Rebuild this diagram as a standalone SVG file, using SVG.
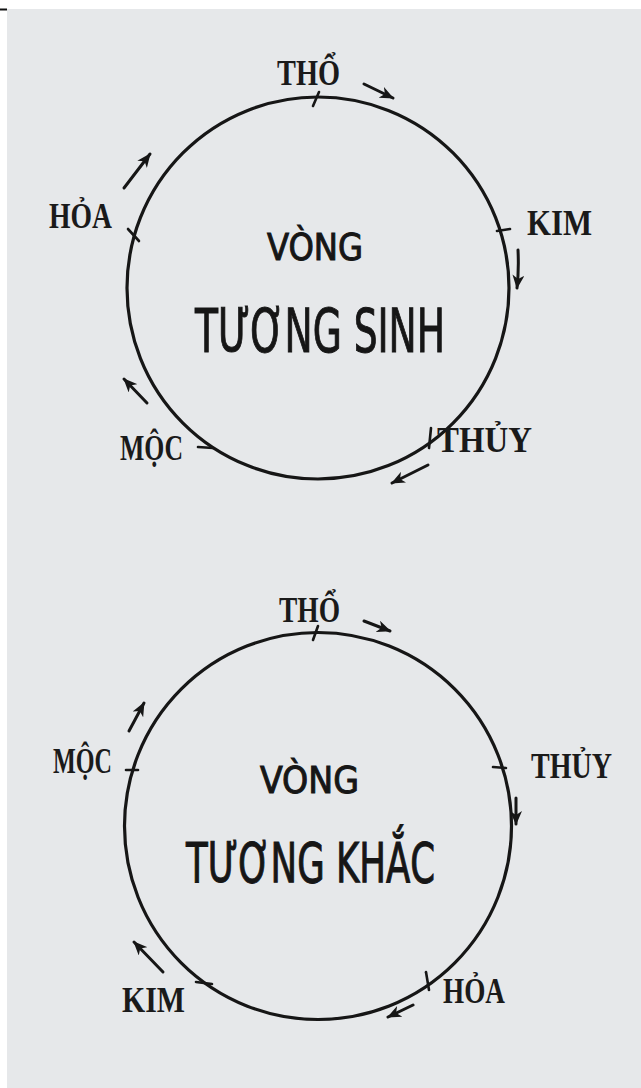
<svg xmlns="http://www.w3.org/2000/svg" width="641" height="1088" viewBox="0 0 641 1088">
  <defs>
    <style>
      .ring { fill: none; stroke: #161616; stroke-width: 3.2; }
      .tick { stroke: #161616; stroke-width: 2.6; stroke-linecap: round; }
      .arr { stroke: #161616; stroke-width: 3; fill: none; stroke-linecap: round; marker-end: url(#head); }
      .lbl { font-family: "Liberation Serif", "DejaVu Serif", serif; font-weight: bold; font-size: 35px; fill: #1a1a1a; }
      .title { font-family: "DejaVu Sans Condensed", "DejaVu Sans", sans-serif; fill: #161616; stroke: #161616; stroke-width: 1; }
    </style>
    <marker id="head" viewBox="0 0 14 12" refX="13" refY="6" markerWidth="14" markerHeight="12" markerUnits="userSpaceOnUse" orient="auto">
      <path d="M0,0 L14,6 L0,12 L4,6 z" fill="#161616"/>
    </marker>
  </defs>

  <rect x="0" y="0" width="641" height="1088" fill="#ffffff"/>
  <rect x="7" y="9" width="634" height="1079" fill="#e6e8ea"/>
  <line x1="0" y1="9.5" x2="7" y2="9.5" stroke="#111" stroke-width="2"/>

  <g id="rings">
    <circle class="ring" cx="318" cy="288" r="191"/>
    <circle class="ring" cx="318" cy="826" r="193.5"/>
  </g>

  <g id="titles">
    <g id="title-sinh">
      <text class="title" x="267" y="260" font-size="38" textLength="96" lengthAdjust="spacingAndGlyphs">VÒNG</text>
      <text class="title" x="195" y="352" font-size="60" textLength="250" lengthAdjust="spacingAndGlyphs">TƯƠNG SINH</text>
    </g>
    <g id="title-khac">
      <text class="title" x="260" y="793" font-size="38" textLength="99" lengthAdjust="spacingAndGlyphs">VÒNG</text>
      <text class="title" x="186" y="882" font-size="55" textLength="249" lengthAdjust="spacingAndGlyphs">TƯƠNG KHẮC</text>
    </g>
  </g>

  <!-- Vòng tương sinh nodes -->
  <g id="sinh-tho">
    <text class="lbl" x="277" y="85" textLength="63" lengthAdjust="spacingAndGlyphs">THỔ</text>
    <line class="tick" x1="313" y1="106" x2="319" y2="92"/>
  </g>
  <g id="sinh-kim">
    <text class="lbl" x="527" y="235" textLength="65" lengthAdjust="spacingAndGlyphs">KIM</text>
    <line class="tick" x1="497" y1="231" x2="510" y2="229"/>
  </g>
  <g id="sinh-thuy">
    <text class="lbl" x="437" y="452" textLength="95" lengthAdjust="spacingAndGlyphs">THỦY</text>
    <line class="tick" x1="431" y1="428" x2="429" y2="448"/>
  </g>
  <g id="sinh-moc">
    <text class="lbl" x="120" y="460" textLength="63" lengthAdjust="spacingAndGlyphs">MỘC</text>
    <line class="tick" x1="198" y1="447" x2="213" y2="448"/>
  </g>
  <g id="sinh-hoa">
    <text class="lbl" x="49" y="228" textLength="63" lengthAdjust="spacingAndGlyphs">HỎA</text>
    <line class="tick" x1="128" y1="229" x2="139" y2="241"/>
  </g>

  <!-- Vòng tương khắc nodes -->
  <g id="khac-tho">
    <text class="lbl" x="279" y="622" textLength="61" lengthAdjust="spacingAndGlyphs">THỔ</text>
    <line class="tick" x1="313" y1="640" x2="318" y2="626"/>
  </g>
  <g id="khac-thuy">
    <text class="lbl" x="531" y="778" textLength="81" lengthAdjust="spacingAndGlyphs">THỦY</text>
    <line class="tick" x1="493" y1="767" x2="506" y2="768"/>
  </g>
  <g id="khac-hoa">
    <text class="lbl" x="443" y="1003" textLength="62" lengthAdjust="spacingAndGlyphs">HỎA</text>
    <line class="tick" x1="426" y1="972" x2="429" y2="990"/>
  </g>
  <g id="khac-kim">
    <text class="lbl" x="122" y="1012" textLength="63" lengthAdjust="spacingAndGlyphs">KIM</text>
    <line class="tick" x1="196" y1="982" x2="212" y2="984"/>
  </g>
  <g id="khac-moc">
    <text class="lbl" x="53" y="773" textLength="59" lengthAdjust="spacingAndGlyphs">MỘC</text>
    <line class="tick" x1="126" y1="770" x2="138" y2="770"/>
  </g>

  <g id="connectors">
    <!-- tuong sinh -->
    <line class="arr" x1="364" y1="84" x2="393" y2="98"/>
    <path class="arr" d="M518,250 Q519,270 517,288"/>
    <line class="arr" x1="428" y1="465" x2="392" y2="483"/>
    <line class="arr" x1="147" y1="403" x2="124" y2="379"/>
    <line class="arr" x1="124" y1="188" x2="150" y2="154"/>
    <!-- tuong khac -->
    <line class="arr" x1="364" y1="621" x2="390" y2="631"/>
    <line class="arr" x1="516" y1="798" x2="516" y2="824"/>
    <line class="arr" x1="413" y1="1005" x2="388" y2="1017"/>
    <line class="arr" x1="163" y1="972" x2="134" y2="942"/>
    <line class="arr" x1="129" y1="731" x2="144" y2="703"/>
  </g>
</svg>
